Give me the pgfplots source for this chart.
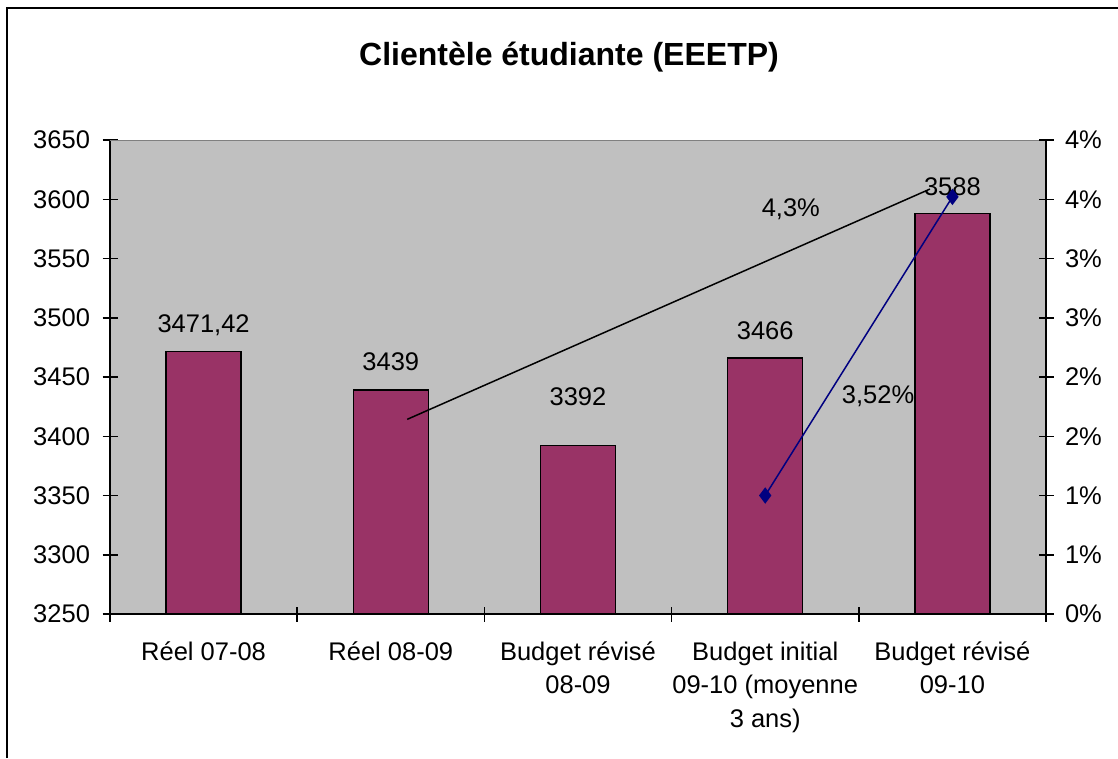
\documentclass[border=0pt]{standalone}
\usepackage{pgfplots}
\pgfplotsset{compat=1.18}
\usepackage{fontspec}
\setmainfont{Liberation Sans}
\definecolor{barc}{HTML}{993366}
\definecolor{plotbg}{HTML}{C0C0C0}
\definecolor{topline}{HTML}{808080}
\definecolor{navyc}{HTML}{000080}
\begin{document}
\begin{tikzpicture}
\useasboundingbox (0,0) rectangle (1118pt,-758pt);
\fill[white] (0,0) rectangle (1118pt,-758pt);
\draw[line width=2pt] (7pt,-758pt) -- (7pt,-8pt) -- (1118pt,-8pt);
\node[font=\fontsize{32}{38}\selectfont\bfseries] at (569pt,-57pt) {Clientèle étudiante (EEETP)};
\begin{axis}[
  at={(110pt,-614pt)}, anchor=south west,
  scale only axis, width=936pt, height=474pt,
  xmin=-0.5, xmax=4.5, ymin=3250, ymax=3650,
  axis background/.style={fill=plotbg},
  axis x line*=bottom, axis y line*=left,
  axis line style={line width=1.5pt, -},
  tick align=center,
  major tick length=15pt,
  tick style={line width=1.5pt, black},
  ytick={3250,3300,3350,3400,3450,3500,3550,3600,3650},
  yticklabels={3250,3300,3350,3400,3450,3500,3550,3600,3650},
  xtick={-0.5,0.5,1.5,2.5,3.5,4.5},
  xticklabel=\empty,
  extra x ticks={0,1,2,3,4},
  extra x tick labels={Réel 07-08, Réel 08-09, {Budget révisé\\08-09}, {Budget initial\\09-10 (moyenne\\3 ans)}, {Budget révisé\\09-10}},
  extra x tick style={major tick length=0pt, xticklabel style={align=center, anchor=north, yshift=-24pt, font=\fontsize{25.5}{33.5}\selectfont}},
  yticklabel style={anchor=east, xshift=-9pt, font=\fontsize{25.5}{30}\selectfont},
  clip=false,
]
\addplot[ybar, bar width=75pt, fill=barc, draw=black, line width=1.5pt] coordinates {
  (0,3471.42) (1,3439) (2,3392) (3,3466) (4,3588)};
\draw[topline, line width=1pt] (rel axis cs:0,1) -- (rel axis cs:1,1);
\addplot[black, line width=1.5pt] coordinates {(1.088,3414.3) (3.880,3608.6)};
\begin{scope}[every node/.style={font=\fontsize{25.5}{30}\selectfont, inner sep=0pt}]
\node at (axis cs:0,3493.9) {3471,42};
\node at (axis cs:1,3462.7) {3439};
\node at (axis cs:2,3433) {3392};
\node at (axis cs:3,3488.8) {3466};
\node at (axis cs:4,3611) {3588};
\node at (axis cs:3.137,3591.8) {4,3\%};
\node at (axis cs:3.603,3433.6) {3,52\%};
\end{scope}
\end{axis}
\begin{axis}[
  at={(110pt,-614pt)}, anchor=south west,
  scale only axis, width=936pt, height=474pt,
  xmin=-0.5, xmax=4.5, ymin=0, ymax=0.04,
  axis x line=none, axis y line*=right,
  axis line style={line width=1.5pt, -},
  tick align=center,
  major tick length=15pt,
  tick style={line width=1.5pt, black},
  scaled y ticks=false,
  ytick={0,0.005,0.01,0.015,0.02,0.025,0.03,0.035,0.04},
  yticklabels={0\%,1\%,1\%,2\%,2\%,3\%,3\%,4\%,4\%},
  yticklabel style={anchor=west, xshift=8pt, font=\fontsize{25.5}{30}\selectfont},
  clip=false,
]
\addplot[navyc, line width=1.5pt, mark=diamond*, mark size=7pt, mark options={fill=navyc, draw=navyc}] coordinates {(3,0.01) (4,0.0352)};
\end{axis}
\end{tikzpicture}
\end{document}
